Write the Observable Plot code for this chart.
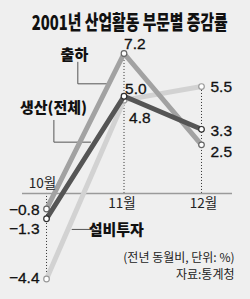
<!DOCTYPE html>
<html><head><meta charset="utf-8">
<script src="https://cdn.jsdelivr.net/npm/d3@7"></script>
<script src="https://cdn.jsdelivr.net/npm/@observablehq/plot@0.6"></script>
<style>
html,body{margin:0;padding:0;background:#efefef;}
#chart{width:250px;height:299px;overflow:hidden;}
#title{box-sizing:border-box;height:40px;padding-top:11px;line-height:22px;padding-right:6px;text-align:center;font-family:"Noto Sans CJK KR",sans-serif;font-weight:900;font-size:20px;color:#111;white-space:nowrap;transform:scaleX(0.74);transform-origin:122px 0;}
svg{display:block;}
</style></head><body><div id="chart"><div id="title"></div></div>
<script>
// ---- data ----
const title = "2001년 산업활동 부문별 증감률";
const months = ["10월", "11월", "12월"];
const seriesNames = ["출하", "생산(전체)", "설비투자"];
const shipment = [-0.8, 7.2, 2.5];     // 출하
const production = [-1.3, 5.0, 3.3];   // 생산(전체)
const investment = [-4.4, 4.8, 5.5];   // 설비투자
const notes = ["(전년 동월비, 단위: %)", "자료:통계청"];

// ---- styles / layout ----
const seriesValues = [shipment, production, investment];
const seriesStyle = [
  {stroke: "#a2a2a2", dot: "#666"},
  {stroke: "#555555", dot: "#2e2e2e"},
  {stroke: "#d2d2d2", dot: "#999"}
];
const drawOrder = [2, 0, 1];
// value label nudges [series][month] -> [dx, dy, anchor]
const valueNudge = [
  [[-7, 1, "end"], [0, -9, "start"], [9, 7, "start"]],
  [[-7, 10, "end"], [1, -7, "start"], [9, 2, "start"]],
  [[-7, -1, "end"], [5, 17.5, "start"], [9, 0, "start"]]
];
const monthNudge = [[-4, -10], [-2, 10], [2, 10]];
// series name annotations (in data space) and leader lines
const nameLayout = [
  {x: 0.36, y: 7.10, leader: [[0.404, 6.75], [0.404, 5.64], [0.79, 5.64]]},
  {x: 0.09, y: 4.40, leader: [[0.095, 3.76], [0.095, 2.64], [0.568, 2.64]]},
  {x: 0.90, y: -1.90, leader: [[0.33, -1.85], [0.61, -1.85]]}
];

document.getElementById("title").textContent = title;

const idx = months.map((_, i) => i);
const extremes = idx.map(i => seriesValues.map(v => v[i]).reduce((a, b) => Math.abs(b) > Math.abs(a) ? b : a));
const fmt = d3.format(".1f");
const numFont = "Liberation Sans, Arial, sans-serif";
const krFont = "Noto Sans CJK KR, sans-serif";

const marks = [
  Plot.ruleX(idx, {x: d => d, y1: 0, y2: d => extremes[d], stroke: "#333", strokeWidth: 1, strokeDasharray: "1,2"}),
  Plot.ruleY([0], {stroke: "#9a9a9a", strokeWidth: 1.5})
];
// leader lines
nameLayout.forEach(n => {
  marks.push(Plot.line(n.leader, {x: d => d[0], y: d => d[1], stroke: "#555", strokeWidth: 1}));
});
drawOrder.forEach(s => {
  const v = seriesValues[s];
  marks.push(Plot.line(idx, {x: d => d, y: d => v[d], stroke: seriesStyle[s].stroke, strokeWidth: 5, strokeLinejoin: "miter", strokeLinecap: "butt"}));
  marks.push(Plot.dot(idx, {x: d => d, y: d => v[d], r: 2.8, fill: "white", stroke: seriesStyle[s].dot, strokeWidth: 1.2}));
});
// value labels
seriesValues.forEach((v, s) => {
  idx.forEach(i => {
    const [dx, dy, anchor] = valueNudge[s][i];
    marks.push(Plot.text([i], {x: d => d, y: d => v[d], text: d => fmt(v[d]), dx, dy, textAnchor: anchor,
      fontSize: 15.5, fontFamily: numFont, fill: "#111", stroke: "#111", strokeWidth: 0.3, ariaLabel: "num"}));
  });
});
// month labels
idx.forEach(i => {
  marks.push(Plot.text([i], {x: d => d, y: 0, text: d => months[d], dx: monthNudge[i][0], dy: monthNudge[i][1],
    fontSize: 13.5, fontFamily: krFont, fill: "#222", ariaLabel: "month"}));
});
// series names
nameLayout.forEach((n, s) => {
  marks.push(Plot.text([n], {x: "x", y: "y", text: () => seriesNames[s], fontSize: 15, fontWeight: 900,
    fontFamily: krFont, fill: "#111", ariaLabel: "name"}));
});
// notes
marks.push(Plot.text([notes[0]], {frameAnchor: "bottom-right", text: d => d, dx: 2, dy: -17, fontSize: 12, fontFamily: krFont, fill: "#222", ariaLabel: "note"}));
marks.push(Plot.text([notes[1]], {frameAnchor: "bottom-right", text: d => d, dx: 2, dy: 0, fontSize: 12, fontFamily: krFont, fill: "#222", ariaLabel: "note"}));

const svg = Plot.plot({
  width: 250, height: 259,
  marginLeft: 22, marginRight: 18, marginTop: 13, marginBottom: 20.5,
  style: {background: "transparent", overflow: "visible"},
  x: {type: "linear", domain: [-0.31, 2.4], axis: null},
  y: {domain: [-4.4, 7.2], axis: null},
  marks
});
const squeeze = {num: 0.8, month: 0.74, name: 0.72, note: 0.82};
Object.entries(squeeze).forEach(([k, f]) => {
  svg.querySelectorAll(`g[aria-label="${k}"] text`).forEach(t => {
    const tr = t.getAttribute("transform") || "";
    t.setAttribute("transform", tr + ` scale(${f},1)`);
  });
});
document.getElementById("chart").appendChild(svg);
</script></body></html>
